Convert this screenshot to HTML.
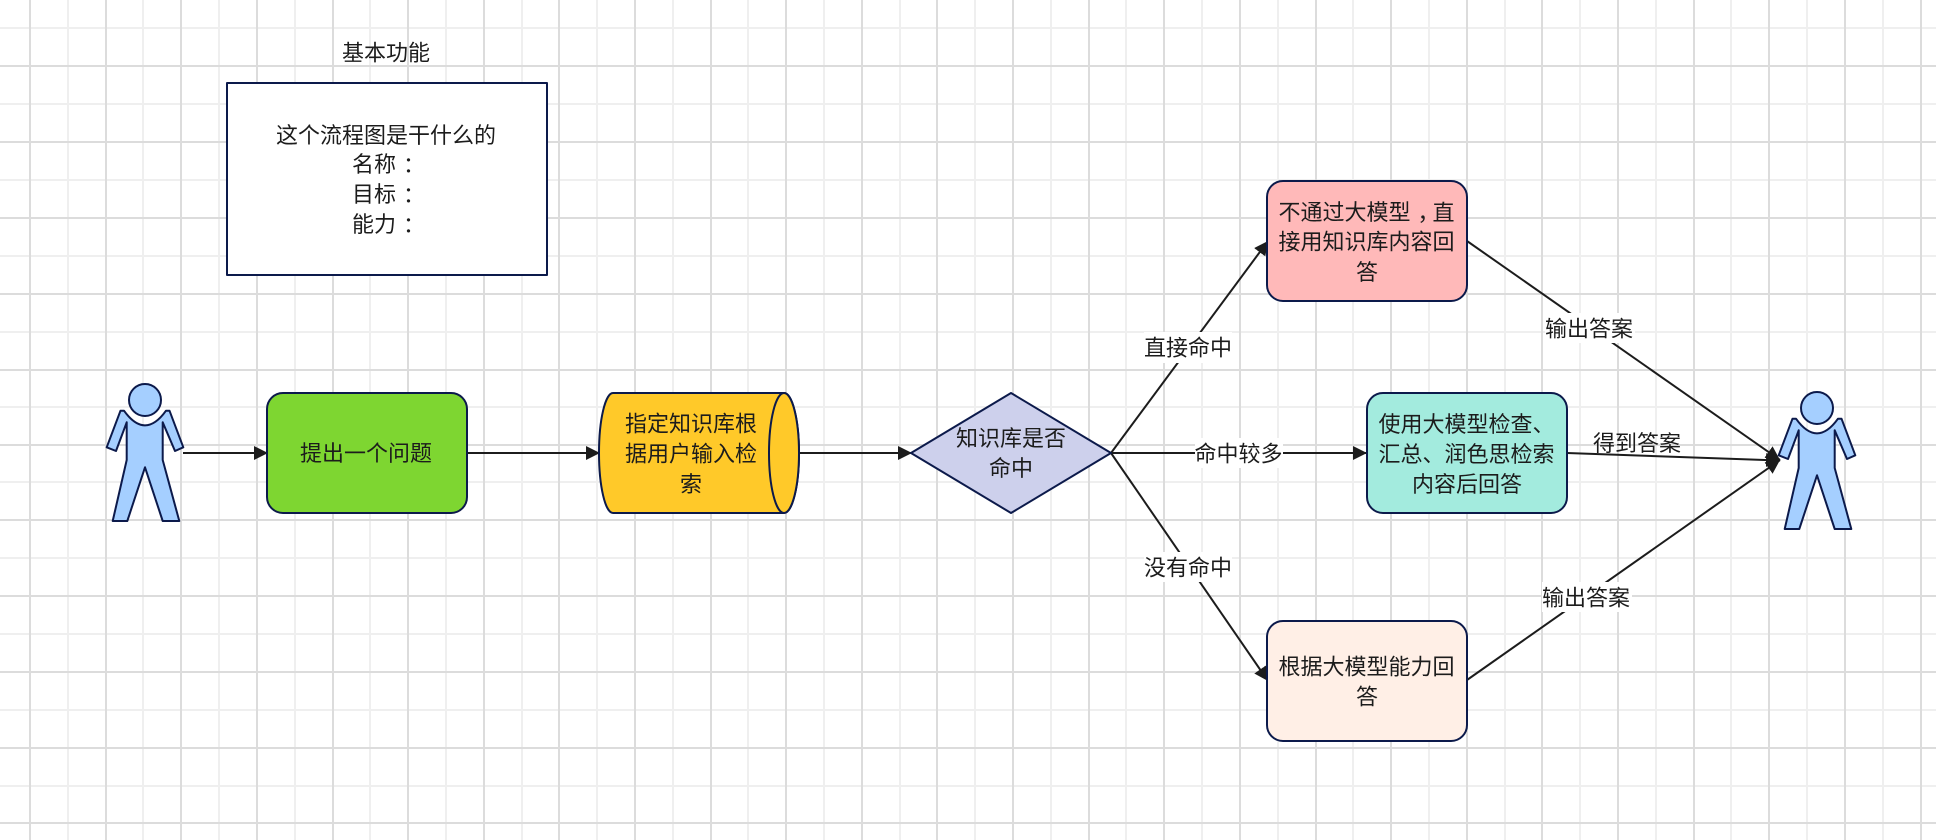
<!DOCTYPE html>
<html lang="zh">
<head>
<meta charset="utf-8">
<title>流程图</title>
<style>
html,body{margin:0;padding:0;background:#fff;width:1936px;height:840px;overflow:hidden}
svg{display:block}
text{font-family:"Liberation Sans","Noto Sans CJK SC",sans-serif;font-size:22px;fill:#1c1c1c;text-anchor:middle;dominant-baseline:central}
.s{stroke:#0c1a4b;stroke-width:2;stroke-linejoin:round}
.c{stroke:#1c1c1c;stroke-width:2;fill:none}
</style>
</head>
<body>
<svg width="1936" height="840" viewBox="0 0 1936 840" xmlns="http://www.w3.org/2000/svg">
<defs>
<marker id="ah" markerUnits="userSpaceOnUse" markerWidth="15" markerHeight="15" refX="14" refY="7" orient="auto">
<path d="M0,0 L14,7 L0,14 Z" fill="#1c1c1c"/>
</marker>
<g id="actor">
<circle cx="145" cy="400" r="16" fill="#a5cfff" class="s"/>
<path d="M120.5,410.7 L124,410.7 Q145,440 166,410.7 L169.5,410.7 L183.3,447.3 L175,451 L162.7,422.3 L162.7,460 L179.3,521 L162.7,521 L145,467.3 L127.3,521 L112.7,521 L126.7,460 L126.7,422.3 L116,451 L106.7,447.3 Z" fill="#a5cfff" class="s"/>
</g>
</defs>

<rect width="1936" height="840" fill="#fff"/>
<!-- light grid -->
<path fill="none" stroke="#efefef" stroke-width="2" d="M68,0V840M143,0V840M219,0V840M295,0V840M370,0V840M446,0V840M522,0V840M597,0V840M673,0V840M748,0V840M824,0V840M900,0V840M975,0V840M1051,0V840M1126,0V840M1202,0V840M1278,0V840M1353,0V840M1429,0V840M1505,0V840M1580,0V840M1656,0V840M1731,0V840M1807,0V840M1883,0V840M0,28H1936M0,104H1936M0,180H1936M0,256H1936M0,332H1936M0,407H1936M0,482H1936M0,558H1936M0,634H1936M0,710H1936M0,786H1936"/>
<!-- major grid -->
<path fill="none" stroke="#dcdcdc" stroke-width="2" d="M30,0V840M106,0V840M181,0V840M257,0V840M333,0V840M408,0V840M484,0V840M559,0V840M635,0V840M711,0V840M786,0V840M862,0V840M937,0V840M1013,0V840M1089,0V840M1164,0V840M1240,0V840M1316,0V840M1391,0V840M1467,0V840M1542,0V840M1618,0V840M1694,0V840M1769,0V840M1845,0V840M1921,0V840M0,66H1936M0,142H1936M0,218H1936M0,294H1936M0,370H1936M0,445H1936M0,520H1936M0,596H1936M0,672H1936M0,748H1936M0,823H1936"/>

<!-- connectors -->
<line class="c" x1="183" y1="453" x2="268" y2="453" marker-end="url(#ah)"/>
<line class="c" x1="467" y1="453" x2="600" y2="453" marker-end="url(#ah)"/>
<line class="c" x1="799" y1="453" x2="912" y2="453" marker-end="url(#ah)"/>
<line class="c" x1="1111" y1="453" x2="1268" y2="241" marker-end="url(#ah)"/>
<line class="c" x1="1111" y1="453" x2="1367" y2="453" marker-end="url(#ah)"/>
<line class="c" x1="1111" y1="453" x2="1268" y2="681" marker-end="url(#ah)"/>
<line class="c" x1="1467" y1="241" x2="1780" y2="460" marker-end="url(#ah)"/>
<line class="c" x1="1567" y1="453" x2="1780" y2="460.5" marker-end="url(#ah)"/>
<line class="c" x1="1467" y1="680" x2="1780" y2="460" marker-end="url(#ah)"/>

<!-- title box -->
<text x="386" y="53">基本功能</text>
<rect x="227" y="83" width="320" height="192" fill="#fff" class="s"/>
<text x="386" y="135.5">这个流程图是干什么的</text>
<text x="388.5" y="164.5">名称<tspan dx="7">：</tspan></text>
<text x="388.5" y="194.5">目标<tspan dx="7">：</tspan></text>
<text x="388.5" y="224.5">能力<tspan dx="7">：</tspan></text>

<!-- actors -->
<use href="#actor"/>
<use href="#actor" x="1672" y="8"/>

<!-- step 1 -->
<rect x="267" y="393" width="200" height="120" rx="16" ry="16" fill="#7ed631" class="s"/>
<text x="366" y="453.5">提出一个问题</text>

<!-- cylinder -->
<path d="M613,393 L784,393 A15,60 0 0 1 784,513 L613,513 A14,60 0 0 1 613,393 Z" fill="#ffc929" class="s"/>
<ellipse cx="784" cy="453" rx="15" ry="60" fill="#ffc929" class="s"/>
<text x="691" y="424">指定知识库根</text>
<text x="691" y="454">据用户输入检</text>
<text x="691" y="484.5">索</text>

<!-- diamond -->
<polygon points="1011,393 1111,453 1011,513 911,453" fill="#cdd0ec" class="s"/>
<text x="1011" y="438.5">知识库是否</text>
<text x="1011" y="468.5">命中</text>

<!-- boxes -->
<rect x="1267" y="181" width="200" height="120" rx="16" ry="16" fill="#ffb9b9" class="s"/>
<text x="1366.5" y="212.5">不通过大模型<tspan dx="7">，</tspan><tspan dx="-7">直</tspan></text>
<text x="1366.5" y="242">接用知识库内容回</text>
<text x="1367" y="272.5">答</text>

<rect x="1367" y="393" width="200" height="120" rx="16" ry="16" fill="#a3ebde" class="s"/>
<text x="1466.5" y="424.5">使用大模型检查、</text>
<text x="1466.5" y="454.5">汇总、润色思检索</text>
<text x="1467" y="484.5">内容后回答</text>

<rect x="1267" y="621" width="200" height="120" rx="16" ry="16" fill="#ffefe6" class="s"/>
<text x="1366.5" y="667">根据大模型能力回</text>
<text x="1367" y="697">答</text>

<!-- connector labels -->
<rect x="1144" y="332" width="88" height="31" fill="#fff"/>
<text x="1188" y="348">直接命中</text>
<rect x="1195" y="438" width="88" height="30" fill="#fff"/>
<text x="1238.5" y="454">命中较多</text>
<rect x="1144" y="552" width="88" height="30" fill="#fff"/>
<text x="1188" y="568">没有命中</text>
<rect x="1545" y="313" width="90" height="30" fill="#fff"/>
<text x="1589" y="329">输出答案</text>
<text x="1637" y="443.5">得到答案</text>
<rect x="1542" y="582" width="90" height="30" fill="#fff"/>
<text x="1586" y="598">输出答案</text>
</svg>
</body>
</html>
